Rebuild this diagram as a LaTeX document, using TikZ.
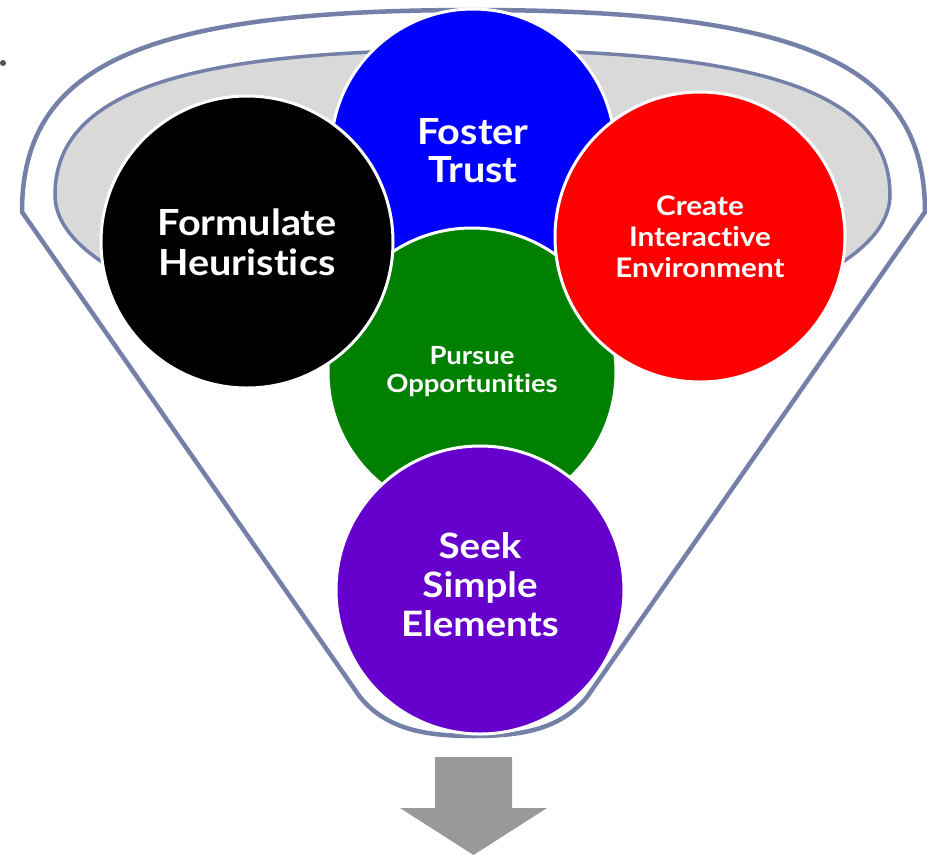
\documentclass[tikz,border=0pt]{standalone}
\usepackage{fontspec}
\setmainfont{Lato}[FakeStretch=1.1, Ligatures={NoCommon,NoContextual}]
\newcommand\tinolig{t\kern0pt i}
\definecolor{funnelline}{RGB}{116,128,168}
\definecolor{funnelgray}{RGB}{217,217,217}
\definecolor{cblue}{RGB}{0,0,255}
\definecolor{cgreen}{RGB}{0,128,0}
\definecolor{cred}{RGB}{255,0,0}
\definecolor{cpurple}{RGB}{102,0,204}
\definecolor{arrowgray}{RGB}{153,153,153}
\definecolor{dotgray}{RGB}{80,80,90}
\begin{document}
\begin{tikzpicture}[x=1pt,y=-1pt,
  ball/.style={circle, draw=white, line width=3pt, inner sep=0pt},
  lbl/.style={text=white, align=center, inner sep=0pt},
  funnel/.style={draw=funnelline, line width=4.5pt, line join=round}]
\useasboundingbox (0,0) rectangle (927,855);
% funnel outline
\draw[funnel] (22,212) .. controls (22,64.5) and (143.9,10) .. (473.5,10)
  .. controls (803.1,10) and (925,64.5) .. (925,212)
  -- (587,697) .. controls (560,730) and (520,736) .. (473.5,736)
  .. controls (427,736) and (387,730) .. (360,697) -- cycle;
% inner rim
\draw[draw=funnelline, line width=3.5pt, fill=funnelgray]
  (55,195) .. controls (55,93.5) and (180,50) .. (472.5,50)
  .. controls (765,50) and (890,93.5) .. (890,195)
  .. controls (890,275) and (703,340) .. (472.5,340)
  .. controls (242,340) and (55,275) .. (55,195) -- cycle;
% circles
\node[ball, fill=cblue, minimum size=284pt] (blue) at (473,151) {};
\node[ball, fill=cgreen, minimum size=288pt] (green) at (472,372) {};
\node[ball, fill=black, minimum size=292pt] (black) at (247,242) {};
\node[ball, fill=cred, minimum size=290pt] (red) at (700,237) {};
\node[ball, fill=cpurple, minimum size=288pt] (purple) at (480,590) {};
% labels
\node[lbl, font=\fontsize{36}{40}\selectfont\bfseries] (tblack) at (black.center) {Formulate\\Heuris\tinolig cs};
\node[lbl, font=\fontsize{36}{38}\selectfont\bfseries] (tblue) at (blue.center) {Foster\\Trust};
\node[lbl, font=\fontsize{27}{31}\selectfont\bfseries] (tred) at (red.center) {Create\\Interac\tinolig ve\\Environment};
\node[lbl, font=\fontsize{25}{28}\selectfont\bfseries] (tgreen) at (green.center) {Pursue\\Opportuni\tinolig es};
\node[lbl, font=\fontsize{35}{39}\selectfont\bfseries] (tpurple) at ([yshift=5pt]purple.center) {Seek\\Simple\\Elements};
% arrow
\fill[arrowgray] (435,757) -- (512,757) -- (512,808) -- (547,808) -- (473.5,855) -- (400,808) -- (435,808) -- cycle;
% bullet dot
\fill[dotgray] (3,63) circle (3pt);
\end{tikzpicture}
\end{document}
